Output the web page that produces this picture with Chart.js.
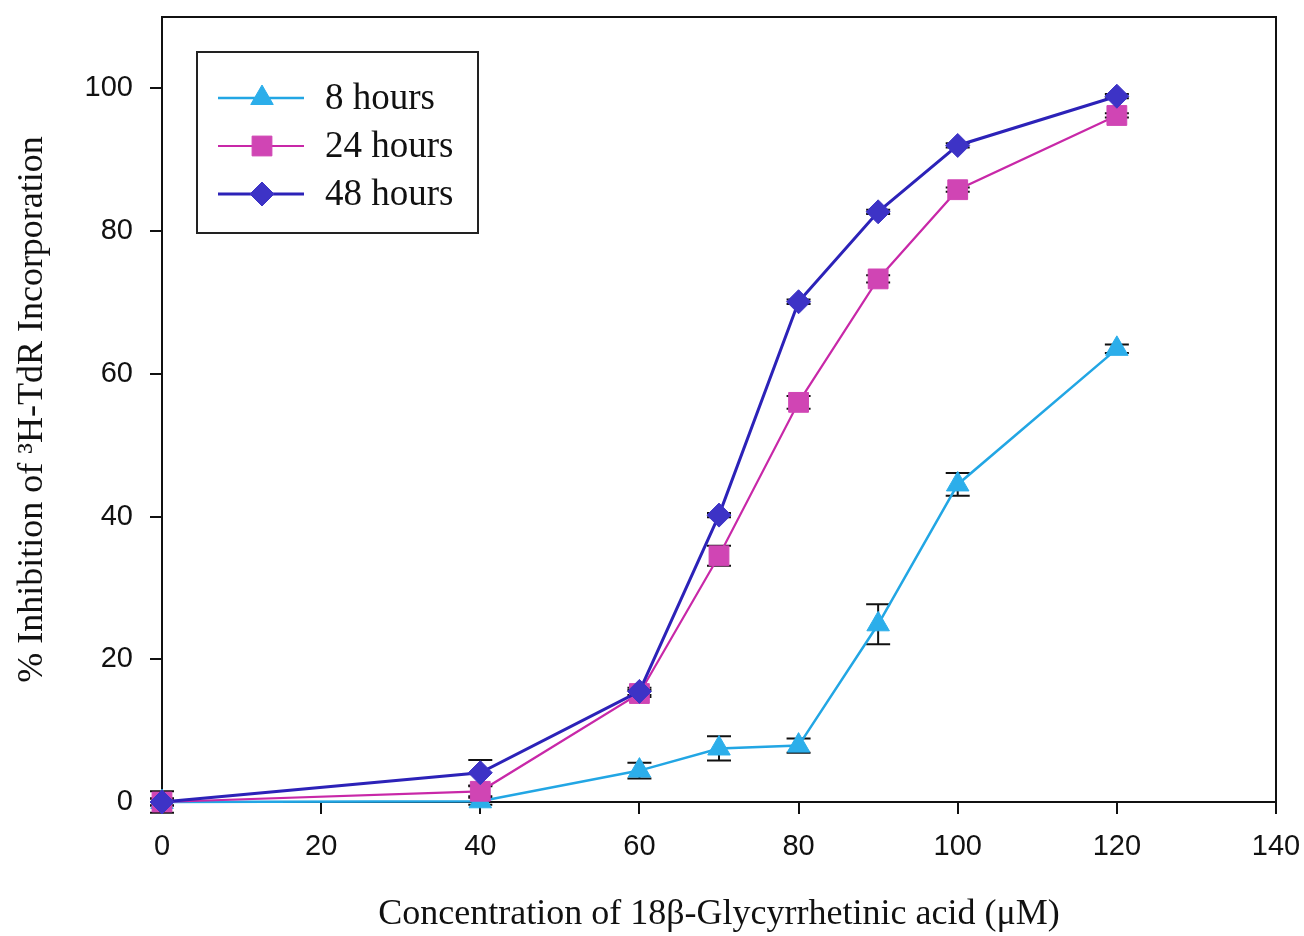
<!DOCTYPE html>
<html>
<head>
<meta charset="utf-8">
<title>Inhibición de 3H-TdR</title>
<script src="https://cdn.jsdelivr.net/npm/chart.js@4/dist/chart.umd.min.js"></script>
<style>
  html, body { margin: 0; padding: 0; background: #fff; }
  #contenedor { width: 1304px; height: 936px; }
</style>
</head>
<body>
<div id="contenedor"><canvas id="grafico" width="1304" height="936"></canvas></div>
<script>
// Concentraciones de ácido 18β-glicirretínico (µM)
const concentraciones = [0, 40, 60, 70, 80, 90, 100, 120];

// % de inhibición por tiempo de exposición
const inhibicion8h  = [0, 0.1, 4.4, 7.5, 7.9, 24.9, 44.5, 63.5];
const inhibicion24h = [0, 1.5, 15.2, 34.5, 56.0, 73.3, 85.8, 96.2];
const inhibicion48h = [0, 4.1, 15.5, 40.2, 70.1, 82.7, 92.0, 98.9];

// Desviaciones (barras de error)
const error8h  = [0.5, 0.5, 1.1, 1.7, 1.0, 2.8, 1.6, 0.6];
const error24h = [0.5, 0.7, 0.5, 1.4, 0.9, 0.5, 0.3, 0.3];
const error48h = [1.5, 1.8, 0.5, 0.3, 0.3, 0.3, 0.3, 0.3];

const ticksX = [0, 20, 40, 60, 80, 100, 120, 140];
const ticksY = [0, 20, 40, 60, 80, 100];

const fuenteNumeros = { family: 'Liberation Sans, Arial, sans-serif', size: 29 };
const fuenteTitulos = { family: 'Liberation Serif, Times New Roman, serif', size: 36 };
const fuenteLeyenda = { family: 'Liberation Serif, Times New Roman, serif', size: 37 };

const aPuntos = (valores) => concentraciones.map((c, i) => ({ x: c, y: valores[i] }));

// Barras de error dibujadas con las escalas del gráfico
const pluginErrores = {
    id: 'barrasError',
    beforeDatasetsDraw(chart) {
        const { ctx, scales: { x, y } } = chart;
        ctx.save();
        ctx.strokeStyle = '#111';
        ctx.lineWidth = 2;
        chart.data.datasets.forEach(ds => {
            ds.data.forEach((p, i) => {
                const e = ds.errores[i];
                if (!e) return;
                const px = x.getPixelForValue(p.x);
                const yArriba = y.getPixelForValue(p.y + e);
                const yAbajo = y.getPixelForValue(p.y - e);
                ctx.beginPath();
                ctx.moveTo(px, yArriba); ctx.lineTo(px, yAbajo);
                ctx.moveTo(px - 12, yArriba); ctx.lineTo(px + 12, yArriba);
                ctx.moveTo(px - 12, yAbajo); ctx.lineTo(px + 12, yAbajo);
                ctx.stroke();
            });
        });
        ctx.restore();
    }
};

// Marco completo alrededor del área del gráfico
const pluginMarco = {
    id: 'marco',
    beforeDatasetsDraw(chart) {
        const { ctx, chartArea: a } = chart;
        ctx.save();
        ctx.strokeStyle = '#111';
        ctx.lineWidth = 2;
        ctx.strokeRect(a.left, a.top, a.right - a.left, a.bottom - a.top);
        ctx.restore();
    }
};

// Leyenda con línea + marcador dentro del área
const pluginLeyenda = {
    id: 'leyendaPropia',
    afterDraw(chart) {
        const { ctx, chartArea: a } = chart;
        const x0 = a.left + 35, y0 = a.top + 35;
        ctx.save();
        ctx.fillStyle = '#fff';
        ctx.fillRect(x0, y0, 281, 181);
        ctx.strokeStyle = '#222';
        ctx.lineWidth = 2;
        ctx.strokeRect(x0, y0, 281, 181);
        ctx.font = `${fuenteLeyenda.size}px ${fuenteLeyenda.family}`;
        ctx.textBaseline = 'middle';
        chart.data.datasets.forEach((ds, i) => {
            const fy = y0 + 46 + i * 48;
            ctx.strokeStyle = ds.borderColor;
            ctx.lineWidth = ds.borderWidth;
            ctx.beginPath();
            ctx.moveTo(x0 + 21, fy); ctx.lineTo(x0 + 107, fy);
            ctx.stroke();
            ctx.fillStyle = ds.pointBackgroundColor;
            ctx.strokeStyle = ds.pointBorderColor;
            ctx.lineWidth = 1;
            Chart.helpers.drawPoint(ctx, { pointStyle: ds.pointStyle, radius: ds.pointRadius, rotation: 0, borderWidth: 1 }, x0 + 65, fy);
            ctx.fillStyle = '#111';
            ctx.fillText(ds.label, x0 + 128, fy + 1);
        });
        ctx.restore();
    }
};

const estiloEje = {
    grid: { drawOnChartArea: false, drawTicks: true, tickLength: 12, color: '#111', lineWidth: 2 },
    border: { display: true, color: '#111', width: 2 }
};

new Chart(document.getElementById('grafico'), {
    type: 'line',
    data: {
        datasets: [
            {
                label: '8 hours', data: aPuntos(inhibicion8h), errores: error8h, order: 3,
                borderColor: '#22a6e4', borderWidth: 2.5,
                pointStyle: 'triangle', pointRadius: 13,
                pointBackgroundColor: '#2caeea', pointBorderColor: '#2caeea', pointBorderWidth: 1
            },
            {
                label: '24 hours', data: aPuntos(inhibicion24h), errores: error24h, order: 2,
                borderColor: '#c828a8', borderWidth: 2.2,
                pointStyle: 'rect', pointRadius: 14,
                pointBackgroundColor: '#d045b4', pointBorderColor: '#d045b4', pointBorderWidth: 1
            },
            {
                label: '48 hours', data: aPuntos(inhibicion48h), errores: error48h, order: 1,
                borderColor: '#2c22b8', borderWidth: 3,
                pointStyle: 'rectRot', pointRadius: 12,
                pointBackgroundColor: '#3d33c6', pointBorderColor: '#3d33c6', pointBorderWidth: 1
            }
        ]
    },
    options: {
        responsive: false,
        animation: false,
        layout: { padding: { top: 17, right: 28, left: 0, bottom: 0 } },
        datasets: { line: { tension: 0, clip: false, fill: false } },
        plugins: { legend: { display: false }, tooltip: { enabled: false } },
        scales: {
            x: {
                type: 'linear', min: 0, max: 140,
                afterBuildTicks: s => { s.ticks = ticksX.map(v => ({ value: v })); },
                afterFit: s => { s.height = 134; s.paddingLeft = 0; s.paddingRight = 0; },
                ticks: { font: fuenteNumeros, color: '#111', padding: 16, maxRotation: 0 },
                title: {
                    display: true, text: 'Concentration of 18β-Glycyrrhetinic acid (μM)',
                    font: fuenteTitulos, color: '#111', padding: { top: 0, bottom: 0 }
                },
                ...estiloEje
            },
            y: {
                type: 'linear', min: 0, max: 110,
                afterBuildTicks: s => { s.ticks = ticksY.map(v => ({ value: v })); },
                afterFit: s => { s.width = 162; s.paddingTop = 0; s.paddingBottom = 0; },
                ticks: { font: fuenteNumeros, color: '#111', padding: 17 },
                title: {
                    display: true, text: '% Inhibition of ³H-TdR Incorporation',
                    font: fuenteTitulos, color: '#111', padding: { top: 11, bottom: 0 }
                },
                ...estiloEje
            }
        }
    },
    plugins: [pluginMarco, pluginErrores, pluginLeyenda]
});
</script>
</body>
</html>
